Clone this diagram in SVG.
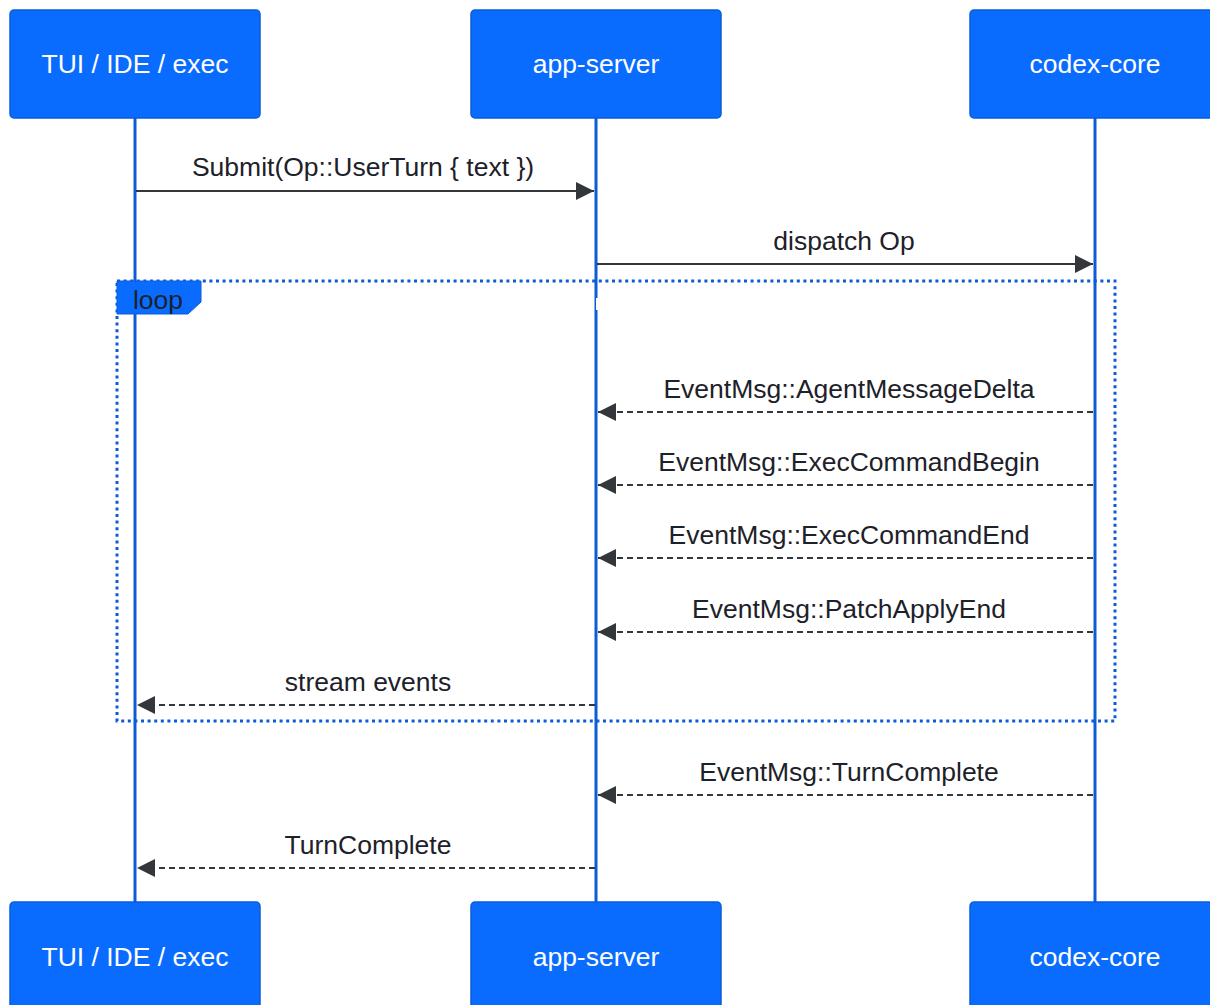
<svg xmlns="http://www.w3.org/2000/svg" width="1210" height="1005" viewBox="0 0 1210 1005">
  <defs>
    <marker id="ah" markerUnits="userSpaceOnUse" markerWidth="18" markerHeight="18" refX="18" refY="9" orient="auto">
      <path d="M0,0 L18,9 L0,18 z" fill="#33363b" stroke="none"/>
    </marker>
  </defs>
  <style>
    text { font-family: "Liberation Sans", Arial, sans-serif; font-size: 26.5px; }
    .node rect { fill: #0a6cff; stroke: #0a5ed8; stroke-width: 1.5; }
    .node text { fill: #ffffff; text-anchor: middle; }
    .life { stroke: #0b5cd6; stroke-width: 3; fill: none; }
    .msg { stroke: #33363b; stroke-width: 2; fill: none; marker-end: url(#ah); }
    .ret { stroke-dasharray: 6 4; }
    .lbl { fill: #1d2129; text-anchor: middle; }
    .loop { fill: none; stroke: #0b5cd6; stroke-width: 3; stroke-dasharray: 3 3.6; }
    .looplbl { fill: #1d2129; text-anchor: middle; }
  </style>
  <rect width="1210" height="1005" fill="#ffffff"/>

  <g id="lifelines">
    <line class="life" x1="135" y1="118" x2="135" y2="902"/>
    <line class="life" x1="596" y1="118" x2="596" y2="902"/>
    <line class="life" x1="1095" y1="118" x2="1095" y2="902"/>
  </g>

  <g id="loop">
    <rect class="loop" x="117" y="281" width="998" height="440"/>
    <polygon points="117,281 201,281 201,302 188,314 117,314" fill="#0a6cff" stroke="#0a5ed8" stroke-width="1"/>
    <text class="looplbl" x="158" y="309">loop</text>
    <rect x="596" y="298" width="2" height="12" fill="#ffffff"/>
  </g>

  <g id="connectors">
    <line class="msg" x1="136" y1="191" x2="594" y2="191"/>
    <text class="lbl" x="363" y="176">Submit(Op::UserTurn { text })</text>

    <line class="msg" x1="597" y1="264" x2="1093" y2="264"/>
    <text class="lbl" x="844" y="250">dispatch Op</text>

    <line class="msg ret" x1="1093" y1="412" x2="598" y2="412"/>
    <text class="lbl" x="849" y="398">EventMsg::AgentMessageDelta</text>

    <line class="msg ret" x1="1093" y1="485" x2="598" y2="485"/>
    <text class="lbl" x="849" y="471">EventMsg::ExecCommandBegin</text>

    <line class="msg ret" x1="1093" y1="558" x2="598" y2="558"/>
    <text class="lbl" x="849" y="544">EventMsg::ExecCommandEnd</text>

    <line class="msg ret" x1="1093" y1="632" x2="598" y2="632"/>
    <text class="lbl" x="849" y="618">EventMsg::PatchApplyEnd</text>

    <line class="msg ret" x1="595" y1="705" x2="137" y2="705"/>
    <text class="lbl" x="368" y="691">stream events</text>

    <line class="msg ret" x1="1093" y1="795" x2="598" y2="795"/>
    <text class="lbl" x="849" y="781">EventMsg::TurnComplete</text>

    <line class="msg ret" x1="595" y1="868" x2="137" y2="868"/>
    <text class="lbl" x="368" y="854">TurnComplete</text>
  </g>

  <g id="node-tui-top" class="node">
    <rect x="10" y="10" width="250" height="108" rx="4"/>
    <text x="135" y="73">TUI / IDE / exec</text>
  </g>
  <g id="node-appserver-top" class="node">
    <rect x="471" y="10" width="250" height="108" rx="4"/>
    <text x="596" y="73">app-server</text>
  </g>
  <g id="node-codexcore-top" class="node">
    <rect x="970" y="10" width="250" height="108" rx="4"/>
    <text x="1095" y="73">codex-core</text>
  </g>
  <g id="node-tui-bottom" class="node">
    <rect x="10" y="902" width="250" height="110" rx="4"/>
    <text x="135" y="966">TUI / IDE / exec</text>
  </g>
  <g id="node-appserver-bottom" class="node">
    <rect x="471" y="902" width="250" height="110" rx="4"/>
    <text x="596" y="966">app-server</text>
  </g>
  <g id="node-codexcore-bottom" class="node">
    <rect x="970" y="902" width="250" height="110" rx="4"/>
    <text x="1095" y="966">codex-core</text>
  </g>
</svg>
